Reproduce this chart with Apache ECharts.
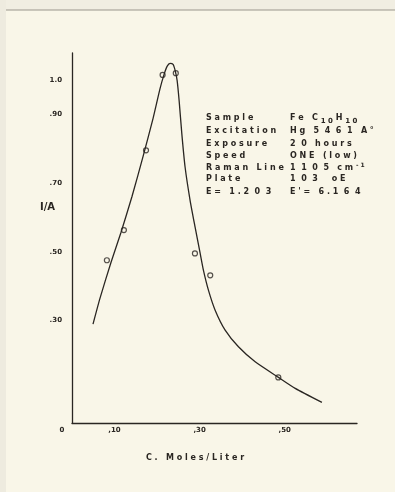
<!DOCTYPE html>
<html><head><meta charset="utf-8">
<script src="https://cdn.jsdelivr.net/npm/echarts@6/dist/echarts.min.js"></script>
<style>html,body{margin:0;padding:0;background:#f9f6e8}#c{width:395px;height:492px}</style>
</head><body><div id="c"></div><script>
// fitted curve
const curveX = [0.0494, 0.0659, 0.0918, 0.1153, 0.1412, 0.1671, 0.1906, 0.2071, 0.2165, 0.2235, 0.2306, 0.2376, 0.2424, 0.2471, 0.2518, 0.2581, 0.2659, 0.2776, 0.2894, 0.3012, 0.3089, 0.3207, 0.3365, 0.3600, 0.3913, 0.4306, 0.4854, 0.5247, 0.5875];
const curveY = [0.2886, 0.3644, 0.4694, 0.5569, 0.6618, 0.7784, 0.8892, 0.9767, 1.0175, 1.0408, 1.0496, 1.0466, 1.0292, 1.0000, 0.9417, 0.8455, 0.7464, 0.6501, 0.5714, 0.4956, 0.4461, 0.3878, 0.3294, 0.2711, 0.2224, 0.1787, 0.1332, 0.1012, 0.0603];
// measured points
const pointX = [0.082, 0.122, 0.174, 0.213, 0.244, 0.289, 0.325, 0.485];
const pointY = [0.475, 0.563, 0.796, 1.016, 1.021, 0.495, 0.431, 0.133];
// tick labels
const yTickValues = [0.3, 0.5, 0.7, 0.9, 1.0];
const yTickLabels = ['.30', '.50', '.70', '.90', '1.0'];
const xTickValues = [0, 0.1, 0.3, 0.5];
const xTickLabels = ['0', ',10', ',30', ',50'];
// annotation
const infoLabels = ['Sample', 'Excitation', 'Exposure', 'Speed', 'Raman Line', 'Plate', 'E= 1.203'];
const infoValues = ['Fe C{sub|10}H{sub|10}', 'Hg 5461 A°', '20 hours', 'ONE (low)', '1105 cm{sup|-1}', '103  oE', "E'= 6.164"];
const xName = 'C. Moles/Liter';
const yName = 'I/A';

function sp(s) {
  // letter-spaced lettering; keep rich tags intact
  let out = '', i = 0;
  while (i < s.length) {
    if (s[i] === '{') {
      const j = s.indexOf('|', i), k = s.indexOf('}', i);
      out += s.slice(i, j + 1) + s.slice(j + 1, k).split('').join(' ') + '} ';
      i = k + 1;
    } else if (s[i] === ' ') { out += '  '; i++; }
    else if (/[0-9]/.test(s[i]) && /[0-9]/.test(s[i + 1] || '')) { out += s[i] + '  '; i++; }
    else { out += s[i] + ' '; i++; }
  }
  return out.trim();
}
const ink = '#2a2622';
const font = 'bold 8px "DejaVu Sans"';
const rowY = [118, 131, 144, 156, 168, 179, 192];
const graphics = [
  { type: 'rect', shape: { x: 0, y: 0, width: 395, height: 10 }, style: { fill: '#f1eee2' } },
  { type: 'line', shape: { x1: 5, y1: 10, x2: 395, y2: 10 }, style: { stroke: '#9a968c', lineWidth: 1 } },
  { type: 'rect', shape: { x: 0, y: 0, width: 6, height: 492 }, style: { fill: '#eeebdf' } },
  { type: 'text', x: 40, y: 207, style: { text: yName, font: 'bold 10px "DejaVu Sans"', fill: ink, verticalAlign: 'middle' } },
  { type: 'text', x: 195, y: 458, style: { text: sp(xName), font: font, fill: ink, align: 'center', verticalAlign: 'middle' } }
];
infoLabels.forEach((t, i) => {
  graphics.push({ type: 'text', x: 206, y: rowY[i], style: { text: sp(t), font: font, fill: ink, verticalAlign: 'middle' } });
  graphics.push({ type: 'text', x: 290, y: rowY[i], style: { text: sp(infoValues[i]), font: font, fill: ink, verticalAlign: 'middle',
    rich: { sub: { font: 'bold 7px "DejaVu Sans"', fill: ink, padding: [6, 0, 0, 0] }, sup: { font: 'bold 6px "DejaVu Sans"', fill: ink, padding: [0, 0, 5, 0] } } } });
});

const chart = echarts.init(document.getElementById('c'), null, { renderer: 'canvas' });
chart.setOption({
  backgroundColor: '#f9f6e8',
  animation: false,
  grid: { left: 72, top: 53, width: 285, height: 370 },
  xAxis: {
    type: 'value', min: 0, max: 0.67, interval: 0.1,
    axisLine: { lineStyle: { color: ink, width: 1.3 } },
    axisTick: { show: false }, splitLine: { show: false },
    axisLabel: {
      margin: 4, color: ink, fontFamily: 'DejaVu Sans', fontWeight: 'bold', fontSize: 7,
      showMaxLabel: false,
      formatter: v => {
        const i = xTickValues.findIndex(t => Math.abs(t - v) < 1e-6);
        if (i < 0) return '';
        return v === 0 ? '{z|' + xTickLabels[i] + '}' : xTickLabels[i];
      },
      rich: { z: { padding: [0, 20, 0, 0], color: ink, fontFamily: 'DejaVu Sans', fontWeight: 'bold', fontSize: 7 } }
    }
  },
  yAxis: {
    type: 'value', min: 0, max: 1.08, interval: 0.1,
    axisLine: { show: true, lineStyle: { color: ink, width: 1.3 } },
    axisTick: { show: false }, splitLine: { show: false },
    axisLabel: {
      margin: 10, color: ink, fontFamily: 'DejaVu Sans', fontWeight: 'bold', fontSize: 7,
      formatter: v => {
        const i = yTickValues.findIndex(t => Math.abs(t - v) < 1e-6);
        return i < 0 ? '' : yTickLabels[i];
      }
    }
  },
  series: [
    { type: 'line', data: curveX.map((x, i) => [x, curveY[i]]), smooth: 0.2, showSymbol: false,
      lineStyle: { color: ink, width: 1.3 }, silent: true },
    { type: 'scatter', data: pointX.map((x, i) => [x, pointY[i]]), symbol: 'circle', symbolSize: 5,
      itemStyle: { color: 'rgba(0,0,0,0)', borderColor: ink, borderWidth: 1.2 } }
  ],
  graphic: graphics
});
</script></body></html>
